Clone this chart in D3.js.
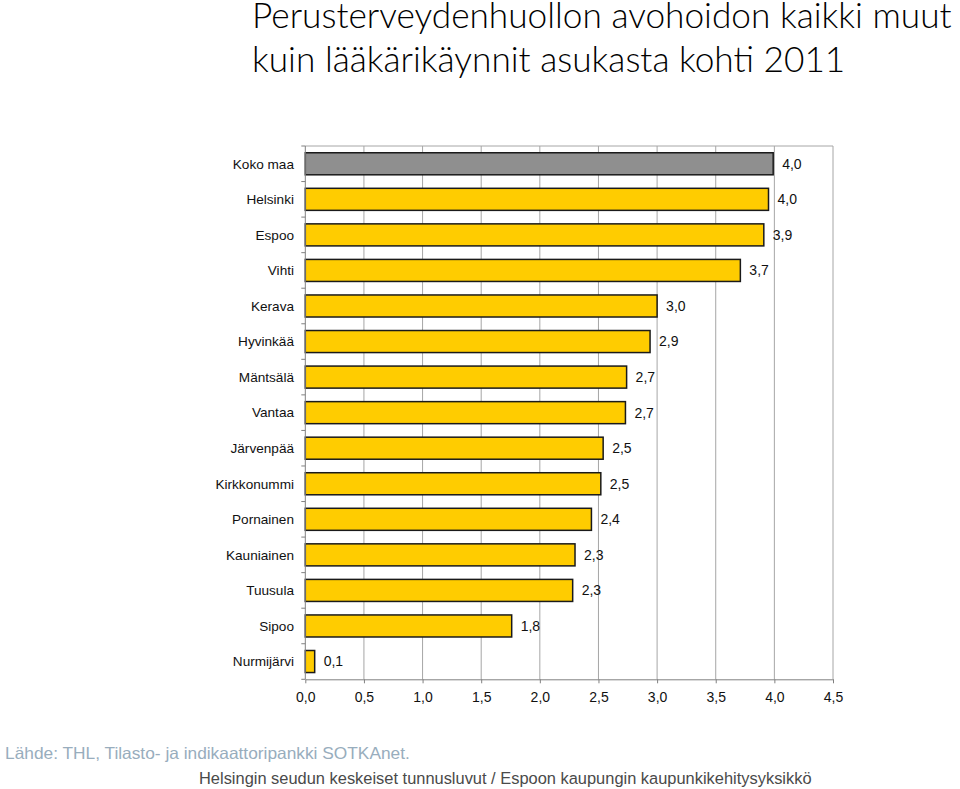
<!DOCTYPE html>
<html><head><meta charset="utf-8">
<script src="https://cdn.jsdelivr.net/npm/d3@7"></script>
<style>body{margin:0;background:#fff}svg{display:block}</style>
</head><body>
<svg id="c" width="960" height="789"></svg>
<script>
const categories = ["Koko maa","Helsinki","Espoo","Vihti","Kerava","Hyvinkää","Mäntsälä","Vantaa","Järvenpää","Kirkkonummi","Pornainen","Kauniainen","Tuusula","Sipoo","Nurmijärvi"];
const values = [3.99,3.95,3.91,3.71,3.0,2.94,2.74,2.73,2.54,2.52,2.44,2.30,2.28,1.76,0.08];
const xTicks = [0,0.5,1,1.5,2,2.5,3,3.5,4,4.5];
const titleLines = ["Perusterveydenhuollon avohoidon kaikki muut","kuin lääkärikäynnit asukasta kohti 2011"];
const sourceText = "Lähde: THL, Tilasto- ja indikaattoripankki SOTKAnet.";
const footerText = "Helsingin seudun keskeiset tunnusluvut / Espoon kaupungin kaupunkikehitysyksikkö";

const svg = d3.select("#c");
const fmt = v => (Math.round(v * 10) / 10).toFixed(1).replace(".", ",");
const L = 305.3, R = 833, T = 146, B = 679.3;
const x = d3.scaleLinear().domain([0,4.5]).range([L,R]);
const y = d3.scaleBand().domain(categories).range([T,B]).paddingInner(0.38).paddingOuter(0.19);
const FONT = "'Liberation Sans', Arial, sans-serif";

// gridlines
svg.append("g").selectAll("line").data(xTicks.slice(1)).join("line")
  .attr("x1", d=>x(d)).attr("x2", d=>x(d)).attr("y1", T).attr("y2", B)
  .attr("stroke", "#a6a6a6").attr("stroke-width", 1);
svg.append("line").attr("x1", L).attr("x2", R).attr("y1", T).attr("y2", T).attr("stroke", "#a6a6a6");

// bars
svg.append("g").selectAll("rect").data(categories).join("rect")
  .attr("x", x(0)).attr("y", d=>y(d))
  .attr("width", (d,i)=>x(values[i])-x(0)).attr("height", y.bandwidth())
  .attr("fill", (d,i)=> i===0 ? "#8f8f8f" : "#ffcc00")
  .attr("stroke", "#1a1a1a").attr("stroke-width", 1.5);

// value labels
svg.append("g").selectAll("text").data(categories).join("text")
  .attr("x", (d,i)=>x(values[i]) + 9).attr("y", d=>y(d)+y.bandwidth()/2)
  .attr("dy", "0.35em")
  .attr("font-family", FONT).attr("font-size", 14).attr("fill", "#111")
  .text((d,i)=>fmt(values[i]));

// x axis
const xa = svg.append("g").attr("transform", `translate(0,${B})`)
  .call(d3.axisBottom(x).tickValues(xTicks).tickFormat(fmt).tickSize(4).tickSizeOuter(0));
xa.select(".domain").attr("stroke", "#808080");
xa.selectAll(".tick line").attr("stroke", "#808080");
xa.selectAll("text").attr("font-family", FONT).attr("font-size", 14).attr("fill", "#111").attr("dy", "1.1em");

// y axis
const yEdges = d3.range(categories.length + 1).map(i => T + i*(B-T)/categories.length);
svg.append("line").attr("x1", L).attr("x2", L).attr("y1", T).attr("y2", B).attr("stroke", "#808080");
svg.append("g").selectAll("line").data(yEdges).join("line")
  .attr("x1", L-4).attr("x2", L).attr("y1", d=>d).attr("y2", d=>d).attr("stroke", "#808080");
svg.append("g").selectAll("text").data(categories).join("text")
  .attr("x", 294).attr("y", d=>y(d)+y.bandwidth()/2).attr("dy", "0.35em")
  .attr("text-anchor", "end")
  .attr("font-family", FONT).attr("font-size", 13.6).attr("fill", "#111")
  .text(d=>d);

// title
function fitText(sel, w) {
  const len = sel.node().getComputedTextLength();
  const fs = parseFloat(sel.attr("font-size"));
  sel.attr("font-size", fs * w / len);
}
const t1 = svg.append("text").attr("x", 252).attr("y", 28)
  .attr("font-family", "Lato, 'Open Sans', sans-serif").attr("font-weight", 300).attr("font-size", 32).attr("fill", "#000").text(titleLines[0]);
fitText(t1, 700);
const t2 = svg.append("text").attr("x", 252).attr("y", 72)
  .attr("font-family", "Lato, 'Open Sans', sans-serif").attr("font-weight", 300).attr("font-size", 32).attr("fill", "#000").text(titleLines[1]);
t2.attr("font-size", t1.attr("font-size"));

// footer
const s1 = svg.append("text").attr("x", 5).attr("y", 759)
  .attr("font-family", "'Liberation Sans Narrow', 'Liberation Sans', Arial, sans-serif").attr("font-size", 17)
  .attr("fill", "#98adbd").text(sourceText);
fitText(s1, 405);
const s2 = svg.append("text").attr("x", 199).attr("y", 784)
  .attr("font-family", "'Liberation Sans Narrow', 'Liberation Sans', Arial, sans-serif").attr("font-size", 17)
  .attr("fill", "#4a4a4a").text(footerText);
fitText(s2, 613);
</script>
</body></html>
